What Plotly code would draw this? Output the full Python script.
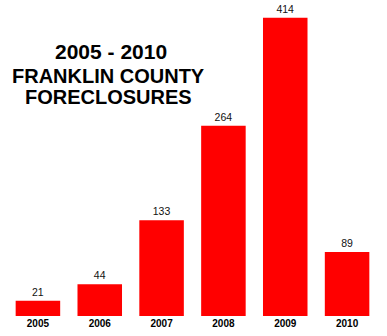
import plotly.graph_objects as go

years = ["2005", "2006", "2007", "2008", "2009", "2010"]
foreclosures = [21, 44, 133, 264, 414, 89]

FONT = "Arial, Liberation Sans, sans-serif"

fig = go.Figure(go.Bar(
    x=years, y=foreclosures,
    marker=dict(color="#FF0000", line=dict(width=0)),
    text=[str(v) for v in foreclosures],
    textposition="outside",
    textfont=dict(family=FONT, size=10.5, color="#111111"),
    cliponaxis=False,
))

fig.update_layout(
    width=387, height=336,
    margin=dict(l=7, r=9, t=0, b=20),
    paper_bgcolor="white", plot_bgcolor="white",
    bargap=0.28,
    showlegend=False,
    xaxis=dict(showgrid=False, showline=False, zeroline=False, ticks="",
               tickfont=dict(family=FONT, size=10, color="#000000", weight="bold"),
               fixedrange=True),
    yaxis=dict(range=[0, 438.6], visible=False, fixedrange=True),
    annotations=[
        dict(text="<b>2005 - 2010</b>", x=111, y=51.5, showarrow=False,
             font=dict(family=FONT, size=21, color="black")),
        dict(text="<b>FRANKLIN COUNTY</b>", x=108, y=76, showarrow=False,
             font=dict(family=FONT, size=20, color="black")),
        dict(text="<b>FORECLOSURES</b>", x=108, y=96.5, showarrow=False,
             font=dict(family=FONT, size=20, color="black")),
    ],
)

# convert pixel positions of title lines to paper coordinates
pw = 387 - 7 - 9
ph = 336 - 0 - 20
for a in fig.layout.annotations:
    a.xref = "paper"
    a.yref = "paper"
    a.x = (a.x - 7) / pw
    a.y = 1 - (a.y - 0) / ph
    a.xanchor = "center"
    a.yanchor = "middle"

fig.write_html("out.html")
